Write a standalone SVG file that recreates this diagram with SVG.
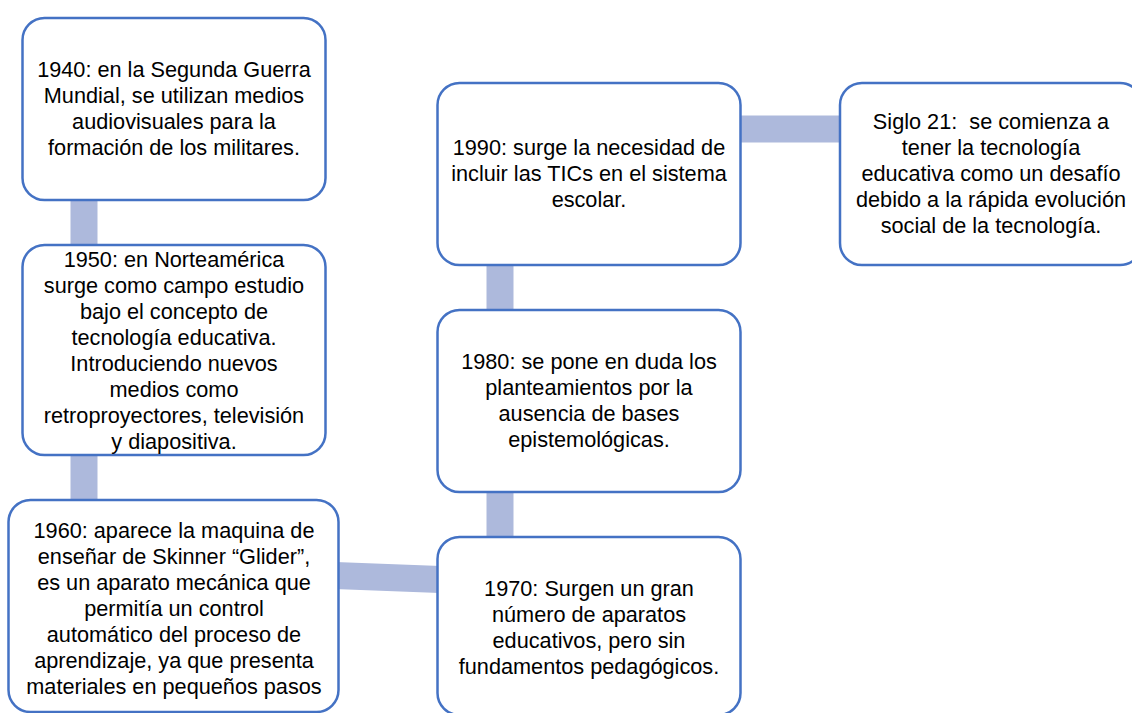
<svg xmlns="http://www.w3.org/2000/svg" width="1132" height="713" viewBox="0 0 1132 713">
<style>
.box{fill:#ffffff;stroke:#4472c4;stroke-width:2.5}
.conn{stroke:#adb9dc;stroke-width:27;fill:none}
text{font-family:"Liberation Sans",Arial,sans-serif;font-size:21.7px;fill:#000000;text-anchor:middle}
.pre{white-space:pre}
</style>
<rect width="1132" height="713" fill="#ffffff"/>
<g id="connectors">
<line class="conn" x1="84" y1="195" x2="84" y2="250"/>
<line class="conn" x1="84" y1="450" x2="84" y2="505"/>
<line class="conn" x1="335" y1="575.5" x2="440" y2="579.5"/>
<line class="conn" x1="500" y1="487" x2="500" y2="542"/>
<line class="conn" x1="500" y1="260" x2="500" y2="315"/>
<line class="conn" x1="736" y1="129" x2="845" y2="129"/>
</g>
<g id="n1940">
<rect class="box" x="22.5" y="18" width="303" height="182" rx="22"/>
<text x="174" y="77">1940: en la Segunda Guerra</text>
<text x="174" y="103">Mundial, se utilizan medios</text>
<text x="174" y="129">audiovisuales para la</text>
<text x="174" y="155">formación de los militares.</text>
</g>
<g id="n1950">
<rect class="box" x="22.5" y="245" width="303" height="210" rx="22"/>
<text x="174" y="267">1950: en Norteamérica</text>
<text x="174" y="293">surge como campo estudio</text>
<text x="174" y="319">bajo el concepto de</text>
<text x="174" y="345">tecnología educativa.</text>
<text x="174" y="371">Introduciendo nuevos</text>
<text x="174" y="397">medios como</text>
<text x="174" y="423">retroproyectores, televisión</text>
<text x="174" y="449">y diapositiva.</text>
</g>
<g id="n1960">
<rect class="box" x="8.5" y="500" width="330" height="212" rx="22"/>
<text x="174" y="538">1960: aparece la maquina de</text>
<text x="174" y="564">enseñar de Skinner “Glider”,</text>
<text x="174" y="590">es un aparato mecánica que</text>
<text x="174" y="616">permitía un control</text>
<text x="174" y="642">automático del proceso de</text>
<text x="174" y="668">aprendizaje, ya que presenta</text>
<text x="174" y="694">materiales en pequeños pasos</text>
</g>
<g id="n1970">
<rect class="box" x="437.5" y="537" width="303" height="178" rx="22"/>
<text x="589" y="596">1970: Surgen un gran</text>
<text x="589" y="622">número de aparatos</text>
<text x="589" y="648">educativos, pero sin</text>
<text x="589" y="674">fundamentos pedagógicos.</text>
</g>
<g id="n1980">
<rect class="box" x="437.5" y="310" width="303" height="182" rx="22"/>
<text x="589" y="369">1980: se pone en duda los</text>
<text x="589" y="395">planteamientos por la</text>
<text x="589" y="421">ausencia de bases</text>
<text x="589" y="447">epistemológicas.</text>
</g>
<g id="n1990">
<rect class="box" x="437.5" y="83" width="303" height="182" rx="22"/>
<text x="589" y="155">1990: surge la necesidad de</text>
<text x="589" y="181">incluir las TICs en el sistema</text>
<text x="589" y="207">escolar.</text>
</g>
<g id="nsiglo21">
<rect class="box" x="840" y="83" width="302" height="182" rx="22"/>
<text class="pre" x="991" y="129">Siglo 21:  se comienza a</text>
<text x="991" y="155">tener la tecnología</text>
<text x="991" y="181">educativa como un desafío</text>
<text x="991" y="207">debido a la rápida evolución</text>
<text x="991" y="233">social de la tecnología.</text>
</g>
</svg>
